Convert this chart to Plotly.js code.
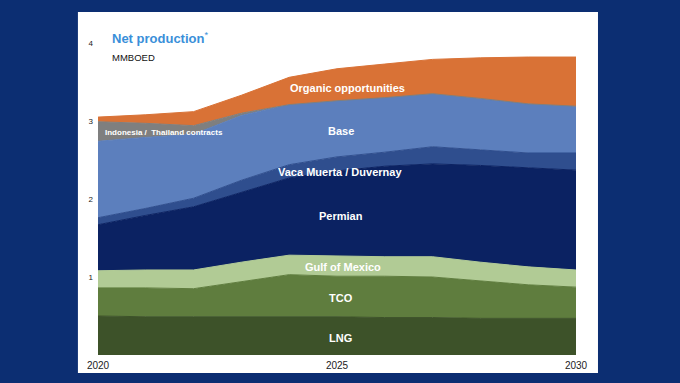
<!DOCTYPE html>
<html>
<head>
<meta charset="utf-8">
<script src="https://cdn.plot.ly/plotly-3.0.1.min.js"></script>
<style>
html,body{margin:0;padding:0;background:#0c2e72;}
#chart{width:680px;height:383px;}
</style>
</head>
<body>
<div id="chart"></div>
<script>
// Years
const years = [2020,2021,2022,2023,2024,2025,2026,2027,2028,2029,2030];
// Net production by source, MMBOED (stacked bottom to top)
const lng       = [0.50,0.49,0.49,0.49,0.49,0.49,0.48,0.48,0.47,0.47,0.47];
const tco       = [0.36,0.37,0.36,0.45,0.54,0.52,0.53,0.52,0.48,0.43,0.40];
const gulfMex   = [0.22,0.23,0.24,0.25,0.25,0.26,0.25,0.26,0.24,0.23,0.22];
const permian   = [0.59,0.70,0.81,0.90,0.99,1.09,1.16,1.19,1.24,1.27,1.28];
const vacaMuerta= [0.09,0.09,0.11,0.15,0.17,0.18,0.18,0.22,0.20,0.19,0.22];
const base      = [0.98,0.91,0.82,0.83,0.77,0.72,0.70,0.68,0.66,0.63,0.60];
const indoThai  = [0.25,0.18,0.11,0.03,0.00,0.00,0.00,0.00,0.00,0.00,0.00];
const organic   = [0.06,0.11,0.18,0.23,0.35,0.41,0.43,0.44,0.52,0.60,0.63];

const xTicks = [2020,2025,2030];
const yTicks = [1,2,3,4];

const series = [
  {name:'LNG', y:lng, color:'#3d5229'},
  {name:'TCO', y:tco, color:'#5f7d3e'},
  {name:'Gulf of Mexico', y:gulfMex, color:'#b1cb95'},
  {name:'Permian', y:permian, color:'#0b2262'},
  {name:'Vaca Muerta / Duvernay', y:vacaMuerta, color:'#2f4e8e'},
  {name:'Base', y:base, color:'#5c7fbd'},
  {name:'Indonesia / Thailand contracts', y:indoThai, color:'#7f7f7f'},
  {name:'Organic opportunities', y:organic, color:'#d97236'}
];

const traces = series.map(s => ({
  type:'scatter', mode:'lines', x:years, y:s.y, name:s.name,
  stackgroup:'one', line:{width:1, color:s.color}, fillcolor:s.color,
  hoverinfo:'skip'
}));

const FONT = 'Arial, Liberation Sans, sans-serif';
const lbl = (text, x, y, size, anchor) => ({
  text:'<b>'+text+'</b>', x:x, y:y, xref:'x', yref:'y', showarrow:false,
  xanchor:anchor||'center', yanchor:'middle',
  font:{family:FONT, size:size||11, color:'#ffffff'}
});

const layout = {
  width:680, height:383,
  margin:{l:98, r:104, t:43, b:28},
  paper_bgcolor:'#0c2e72',
  plot_bgcolor:'#ffffff',
  showlegend:false,
  xaxis:{range:[2020,2030], tickvals:xTicks, ticktext:xTicks.map(String),
    showgrid:false, zeroline:false, showline:false, ticks:'', ticklabelstandoff:3,
    tickfont:{family:FONT, size:10, color:'#222'}, fixedrange:true},
  yaxis:{range:[0,4], tickvals:yTicks, ticktext:yTicks.map(String),
    showgrid:false, zeroline:false, showline:false, ticks:'', ticklabelstandoff:4,
    tickfont:{family:FONT, size:8, color:'#222'}, fixedrange:true},
  shapes:[{type:'rect', xref:'paper', yref:'paper', x0:-0.042, x1:1.046, y0:-0.058, y1:1.099,
    fillcolor:'#ffffff', line:{width:0}, layer:'below'}],
  annotations:[
    {text:'<b>Net production</b><sup>*</sup>', xref:'paper', yref:'paper', x:0.025, y:1.016,
      xanchor:'left', yanchor:'middle', showarrow:false,
      font:{family:FONT, size:13, color:'#3a8fd9'}},
    {text:'MMBOED', xref:'paper', yref:'paper', x:0.025, y:0.955,
      xanchor:'left', yanchor:'middle', showarrow:false,
      font:{family:FONT, size:9.5, color:'#111'}},
    lbl('Organic opportunities', 2025.23, 3.42, 11),
    lbl('Base', 2025.08, 2.87, 11),
    lbl('Vaca Muerta / Duvernay', 2025.06, 2.35, 11),
    lbl('Permian', 2025.08, 1.78, 11),
    lbl('Gulf of Mexico', 2025.13, 1.13, 11),
    lbl('TCO', 2025.08, 0.73, 11),
    lbl('LNG', 2025.08, 0.22, 11),
    lbl('Indonesia /  Thailand contracts', 2020.1, 2.85, 8, 'left')
  ]
};

Plotly.newPlot('chart', traces, layout, {displayModeBar:false, staticPlot:true});
</script>
</body>
</html>
